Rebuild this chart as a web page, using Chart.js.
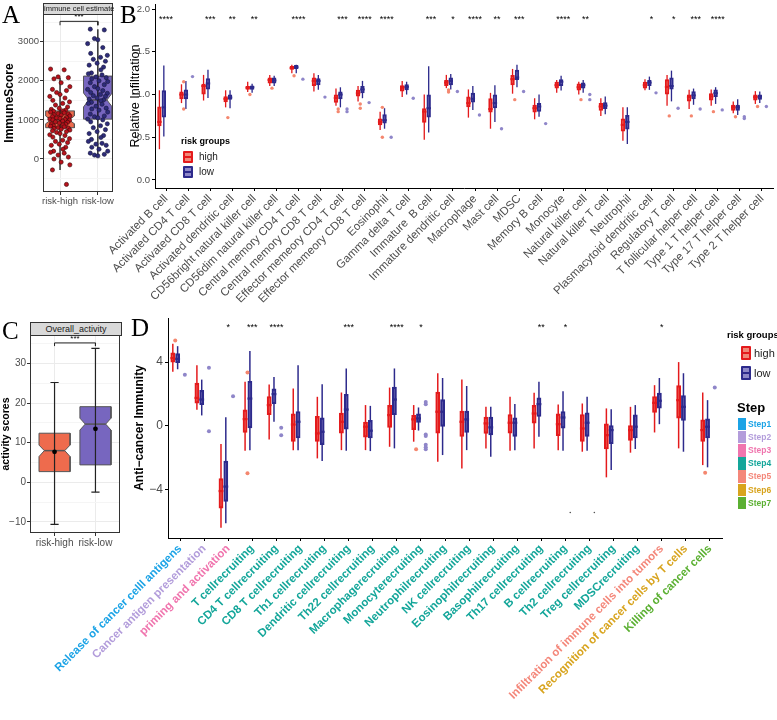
<!DOCTYPE html>
<html>
<head>
<meta charset="utf-8">
<script src="https://cdn.jsdelivr.net/npm/chart.js@4.4.1/dist/chart.umd.min.js"></script>
<style>
body{margin:0;background:#fff;width:777px;height:720px;position:relative;overflow:hidden;font-family:"Liberation Sans",Arial,sans-serif;color:#000}
canvas{position:absolute}
.tag{position:absolute;font-family:"Liberation Serif","DejaVu Serif",serif;font-size:25px;line-height:1}
.strip{position:absolute;background:#d9d9d9;border:1px solid #333;box-sizing:border-box;text-align:center;color:#1a1a1a;white-space:nowrap}
.txt{position:absolute;white-space:nowrap;line-height:1}
.key{position:absolute;box-sizing:border-box;border:2px solid;border-radius:1px}
.key i{position:absolute;left:0;right:0;top:50%;margin-top:-1px;height:2px}
.sq{position:absolute;left:738px;width:8px;height:12px}
.st{position:absolute;left:748px;font-size:8.5px;font-weight:bold;line-height:1}
</style>
</head>
<body>
<canvas id="cA" width="122" height="215" style="left:0;top:0"></canvas>
<canvas id="cC" width="124" height="240" style="left:0;top:320px"></canvas>
<canvas id="cB" width="687" height="340" style="left:90px;top:0"></canvas>
<canvas id="cD" width="727" height="410" style="left:50px;top:310px"></canvas>

<div class="tag" style="left:2px;top:2px">A</div>
<div class="tag" style="left:120px;top:2px">B</div>
<div class="tag" style="left:2px;top:318px">C</div>
<div class="tag" style="left:131px;top:315px">D</div>
<div class="strip" style="left:43px;top:3px;width:70px;height:12px;font-size:7.5px;line-height:10px">immune cell estimate</div>
<div class="strip" style="left:30px;top:322px;width:92px;height:14px;font-size:9px;line-height:12px">Overall_activity</div>

<!-- legend inside panel B -->
<div class="txt" style="left:181px;top:137px;font-size:9px;font-weight:bold">risk groups</div>
<div class="key" style="left:183px;top:151px;width:10px;height:12px;border-color:#E41A1C;background:#F08878"><i style="background:#E41A1C"></i></div>
<div class="txt" style="left:199px;top:152px;font-size:10px;color:#222">high</div>
<div class="key" style="left:183px;top:166px;width:10px;height:12px;border-color:#2D2A8C;background:#8E88C8"><i style="background:#2D2A8C"></i></div>
<div class="txt" style="left:199px;top:167px;font-size:10px;color:#222">low</div>

<!-- legends right of panel D -->
<div class="txt" style="left:727px;top:330px;font-size:9.5px;font-weight:bold">risk groups</div>
<div class="key" style="left:741px;top:346px;width:10px;height:14px;border-color:#E41A1C;background:#F08878"><i style="background:#E41A1C"></i></div>
<div class="txt" style="left:754px;top:348px;font-size:11px;color:#222">high</div>
<div class="key" style="left:741px;top:366px;width:10px;height:14px;border-color:#2D2A8C;background:#8E88C8"><i style="background:#2D2A8C"></i></div>
<div class="txt" style="left:754px;top:368px;font-size:11px;color:#222">low</div>
<div class="txt" style="left:737px;top:401px;font-size:13px;font-weight:bold">Step</div>
<div id="stepLegend"></div>

<script>
// ---------- panel A : ImmuneScore ----------
const scoreGroups = ['risk-high', 'risk-low'];
const scoreQ1 = [800, 1020];
const scoreMed = [1000, 1510];
const scoreQ3 = [1230, 2120];
const scoreNotchLo = [900, 1330];
const scoreNotchHi = [1100, 1690];
const scoreLo = [-280, 100];
const scoreHi = [2080, 3320];
const scoreTicks = [-500, 0, 500, 1000, 1500, 2000, 2500, 3000, 3500];
const scoreHigh = [2300, 2280, 2100, 2080, 2050, 1950, 1850, 1780, 1750, 1700, 1650, 1600, 1560, 1500, 1460,
  1420, 1380, 1330, 1300, 1270, 1250, 1230, 1220, 1200, 1180, 1160, 1150, 1130, 1120, 1100, 1080, 1060, 1050,
  1040, 1020, 1010, 1000, 990, 970, 950, 940, 920, 900, 890, 870, 850, 840, 820, 800, 790, 780, 760, 740, 720,
  700, 680, 650, 620, 600, 560, 520, 480, 450, 420, 380, 350, 300, 250, 200, 170, 150, 100, 50, 0, -80, -150,
  -280, -650];
const scoreLow = [3320, 3300, 3080, 3050, 2950, 2850, 2700, 2650, 2600, 2550, 2500, 2450, 2400, 2350, 2280,
  2200, 2180, 2150, 2100, 2080, 2050, 2000, 1980, 1950, 1900, 1850, 1800, 1780, 1750, 1700, 1680, 1650, 1620,
  1600, 1560, 1530, 1510, 1490, 1450, 1420, 1400, 1350, 1300, 1280, 1250, 1200, 1150, 1100, 1080, 1050, 1020,
  1000, 950, 900, 850, 800, 750, 700, 650, 600, 550, 500, 450, 400, 380, 350, 300, 250, 200, 150, 120, 100, 80];
const scoreSig = ['***'];

// ---------- panel C : overall activity ----------
const actQ1 = [2.7, 4.4];
const actMed = [8.0, 14.7];
const actQ3 = [12.4, 19.1];
const actNotchLo = [6.5, 13.2];
const actNotchHi = [9.4, 16.2];
const actLo = [-10.6, -2.5];
const actHi = [25.2, 33.8];
const actMean = [7.7, 13.5];
const actTicks = [-10, -5, 0, 5, 10, 15, 20, 25, 30, 35];
const actSig = ['***'];

// ---------- panel B : relative infiltration ----------
const cellTypes = ['Activated B cell', 'Activated CD4 T cell', 'Activated CD8 T cell', 'Activated dendritic cell',
  'CD56bright natural killer cell', 'CD56dim natural killer cell', 'Central memory CD4 T cell',
  'Central memory CD8 T cell', 'Effector memeory CD4 T cell', 'Effector memeory CD8 T cell', 'Eosinophil',
  'Gamma delta T cell', 'Immature  B cell', 'Immature dendritic cell', 'Macrophage', 'Mast cell', 'MDSC',
  'Memory B cell', 'Monocyte', 'Natural killer cell', 'Natural killer T cell', 'Neutrophil',
  'Plasmacytoid dendritic cell', 'Regulatory T cell', 'T follicular helper cell', 'Type 1 T helper cell',
  'Type 17 T helper cell', 'Type 2 T helper cell'];
const cellSig = ['****', '', '***', '**', '**', '', '****', '', '***', '****', '****', '', '***', '*', '****',
  '**', '***', '', '****', '**', '', '', '*', '*', '***', '****', '', ''];
const infilTicks = [0, 0.5, 1, 1.5, 2];
const infHighLo = [0.36, 0.90, 0.93, 0.85, 1.03, 1.10, 1.25, 1.035, 0.87, 0.92, 0.585, 0.97, 0.47, 1.075, 0.73, 0.60, 1.01, 0.71, 1.02, 1.00, 0.75, 0.46, 1.05, 0.87, 0.83, 0.87, 0.78, 0.89];
const infHighQ1 = [0.63, 0.945, 1.00, 0.91, 1.055, 1.13, 1.29, 1.10, 0.905, 0.977, 0.64, 1.035, 0.67, 1.10, 0.85, 0.79, 1.11, 0.79, 1.07, 1.047, 0.81, 0.566, 1.07, 1.00, 0.92, 0.93, 0.81, 0.93];
const infHighMed = [0.68, 1.00, 1.10, 0.95, 1.08, 1.17, 1.31, 1.16, 0.96, 1.015, 0.68, 1.08, 0.80, 1.14, 0.90, 0.83, 1.18, 0.84, 1.11, 1.086, 0.86, 0.645, 1.11, 1.09, 0.97, 0.977, 0.85, 0.97];
const infHighQ3 = [0.86, 1.035, 1.125, 0.98, 1.10, 1.20, 1.335, 1.20, 1.00, 1.055, 0.72, 1.11, 0.84, 1.17, 0.977, 0.957, 1.23, 0.88, 1.15, 1.13, 0.90, 0.72, 1.15, 1.18, 1.00, 1.016, 0.88, 1.00];
const infHighHi = [1.05, 1.12, 1.23, 1.05, 1.15, 1.23, 1.35, 1.25, 1.07, 1.10, 0.80, 1.16, 1.00, 1.23, 1.06, 1.02, 1.30, 0.957, 1.17, 1.15, 0.957, 0.85, 1.18, 1.23, 1.055, 1.06, 0.92, 1.04];
const infHighOut = [[], [1.15, 0.83], [], [0.73], [1.00], [1.075], [1.22], [], [0.83, 0.80], [0.89, 0.84], [0.85, 0.50], [], [], [1.055, 1.03], [], [], [0.94], [], [], [0.94], [], [], [], [0.75], [0.75], [0.80], [0.74], [0.86]];
const infLowLo = [0.51, 0.83, 0.96, 0.84, 1.02, 1.10, 1.25, 1.055, 0.85, 0.957, 0.60, 1.00, 0.555, 1.06, 0.82, 0.68, 1.086, 0.74, 1.047, 1.02, 0.77, 0.42, 1.055, 0.92, 0.88, 0.89, 0.76, 0.90];
const infLowQ1 = [0.73, 0.945, 1.06, 0.94, 1.055, 1.13, 1.30, 1.11, 0.945, 1.015, 0.66, 1.05, 0.73, 1.11, 0.906, 0.84, 1.17, 0.80, 1.10, 1.07, 0.83, 0.59, 1.10, 1.06, 0.945, 0.97, 0.81, 0.94];
const infLowMed = [0.85, 1.00, 1.13, 0.965, 1.085, 1.165, 1.32, 1.16, 1.00, 1.06, 0.70, 1.09, 0.84, 1.16, 0.95, 0.90, 1.20, 0.86, 1.15, 1.11, 0.87, 0.68, 1.14, 1.10, 0.99, 1.016, 0.85, 0.977];
const infLowQ3 = [1.05, 1.06, 1.19, 1.00, 1.105, 1.20, 1.345, 1.19, 1.035, 1.10, 0.77, 1.12, 1.00, 1.20, 1.02, 1.00, 1.29, 0.90, 1.18, 1.14, 0.91, 0.76, 1.17, 1.20, 1.04, 1.06, 0.88, 1.00];
const infLowHi = [1.34, 1.16, 1.29, 1.05, 1.125, 1.22, 1.35, 1.23, 1.085, 1.16, 0.84, 1.15, 1.33, 1.24, 1.10, 1.11, 1.35, 1.00, 1.22, 1.17, 0.977, 0.85, 1.21, 1.28, 1.07, 1.086, 0.945, 1.035];
const infLowOut = [[], [1.21], [], [], [], [], [1.18], [0.97], [0.83, 0.80], [0.906], [0.50], [0.957], [], [1.035], [0.76], [0.60], [1.035], [0.66], [], [1.00, 0.94], [], [], [1.02], [0.84], [0.83], [0.82], [0.74, 0.72], [0.86]];

// ---------- panel D : anti-cancer immunity ----------
const cycleSteps = ['Release of cancer celll antigens', 'Cancer antigen presentation', 'priming and activation',
  'T cellrecruiting', 'CD4 T cellrecruiting', 'CD8 T cellrecruiting', 'Th1 cellrecruiting',
  'Dendritic cellrecruiting', 'Th22 cellrecruiting', 'Macrophagerecruiting', 'Monocyterecruiting',
  'Neutrophilrecruiting', 'NK cellrecruiting', 'Eosinophilrecruiting', 'Basophilrecruiting',
  'Th17 cellrecruiting', 'B cellrecruiting', 'Th2 cellrecruiting', 'Treg cellrecruiting', 'MDSCrecruiting',
  'Infiltration of immune cells into tumors', 'Recognition of cancer cells by T cells', 'Killing of cancer cells'];
const stepOf = [1, 2, 3, 4, 4, 4, 4, 4, 4, 4, 4, 4, 4, 4, 4, 4, 4, 4, 4, 4, 5, 6, 7];
const stepNames = ['Step1', 'Step2', 'Step3', 'Step4', 'Step5', 'Step6', 'Step7'];
const stepColors = ['#1BA3E6', '#B39DDB', '#F075AE', '#14A69A', '#F4877A', '#D8A41E', '#5BB032'];
const cycleSig = ['', '', '*', '***', '****', '', '', '***', '', '****', '*', '', '', '', '', '**', '*', '', '', '', '*', '', ''];
const immTicks = [-4, 0, 4];
const immHighLo = [3.40, 1.00, -6.40, -1.57, -0.86, -1.53, -2.05, -1.53, -1.53, -1.32, -1.00, -2.26, -2.68, -1.42, -1.57, -1.42, -1.53, -1.63, -3.24, -1.69, -0.42, -1.42, -2.47];
const immHighQ1 = [3.97, 1.40, -5.20, -0.44, 0.67, -1.00, -1.00, -0.48, -0.73, -0.13, -0.27, -0.48, -0.69, -0.50, -0.48, 0.15, -0.65, -1.00, -1.48, -0.94, 0.82, 0.46, -1.00];
const immHighMed = [4.25, 1.75, -4.10, 0.42, 1.30, 0.08, -0.48, 0.25, -0.06, 0.67, 0.40, 0.88, 0.25, 0.15, 0.19, 0.77, 0.10, -0.17, -0.59, -0.27, 1.44, 1.61, -0.27];
const immHighQ3 = [4.60, 2.70, -3.30, 1.02, 1.86, 0.77, 0.61, 0.82, 0.25, 1.30, 0.67, 2.13, 0.94, 0.56, 0.73, 1.30, 0.77, 0.73, 0.15, 0.04, 1.86, 2.55, 0.40];
const immHighHi = [5.15, 3.80, -1.15, 2.76, 2.59, 2.34, 1.82, 2.09, 1.30, 2.40, 1.30, 3.30, 2.90, 1.20, 1.82, 2.07, 1.34, 1.40, 1.09, 1.19, 2.55, 4.00, 2.09];
const immHighOut = [[5.35], [], [], [3.35, -2.99], [], [], [], [], [], [], [-1.48], [], [], [], [], [], [], [], [], [], [], [], [-2.95]];
const immLowLo = [3.55, 0.65, -6.12, -1.53, 0.25, -1.53, -2.22, -1.57, -1.59, -1.42, -0.30, -1.84, -1.53, -1.94, -1.53, -0.69, -1.57, -1.57, -2.78, -1.46, 0.10, -1.63, -2.61];
const immLowQ1 = [3.95, 1.30, -4.77, -0.15, 1.36, -0.79, -1.21, -0.23, -0.79, 0.67, 0.19, -0.06, -0.44, -0.59, -0.69, 0.56, -0.17, -0.69, -1.15, -0.79, 1.09, 0.31, -0.79];
const immLowMed = [4.20, 1.65, -3.82, 1.71, 1.99, 0.25, -0.38, 1.02, -0.31, 1.65, 0.46, 0.88, 0.40, -0.10, 0.19, 1.36, 0.52, 0.19, -0.27, -0.06, 1.57, 1.19, -0.06];
const immLowQ3 = [4.55, 2.24, -2.20, 2.82, 2.34, 0.92, 0.52, 1.99, 0.36, 2.45, 0.77, 1.67, 0.94, 0.56, 0.52, 1.78, 0.92, 0.84, 0.04, 0.71, 2.07, 1.92, 0.46];
const immLowHi = [5.00, 2.90, 0.54, 4.70, 3.07, 3.80, 2.61, 3.60, 1.25, 3.60, 1.15, 3.00, 2.50, 1.20, 1.36, 2.76, 2.17, 1.82, 1.04, 1.30, 3.00, 3.30, 1.61];
const immLowOut = [[3.20], [3.65, -0.35], [1.86], [], [-0.13, -0.59], [], [], [], [], [], [1.50, 1.35, -0.55, -0.65, -1.20, -1.35, -1.48], [], [], [], [], [], [], [], [], [], [], [], [2.40]];
const immSpecks = [[16, -5.45], [17, -5.45]];

// ---------- shared look ----------
Chart.defaults.font.family = '"Liberation Sans", Arial, sans-serif';
Chart.defaults.animation = false;
Chart.defaults.events = [];
Chart.defaults.plugins.legend.display = false;
Chart.defaults.plugins.tooltip.enabled = false;

const RED = {line: '#E41A1C', fill: '#F08878', dot: '#F4876F'};
const BLUE = {line: '#2D2A8C', fill: '#8E88C8', dot: '#8F86C9'};
const jitterPattern = [-0.25, 0.11, -0.05, 0.22, -0.16, 0.03, 0.26, -0.2, 0.17, -0.09, 0.0, -0.27, 0.13, -0.19, 0.25, 0.07, -0.12, 0.2, -0.02, -0.23, 0.15, 0.08, -0.17];

function fixY(w) { return s => { s.width = w; s.paddingTop = 0; s.paddingBottom = 0; }; }
function fixX(h) { return s => { s.height = h; s.paddingLeft = 0; s.paddingRight = 0; }; }
function setTicks(list) { return s => { s.ticks = list.map(v => ({value: v})); }; }

// significance stars, placed with the chart's own scales
const starPlugin = {
  id: 'stars',
  afterDatasetsDraw(chart, args, opts) {
    const ctx = chart.ctx, xs = chart.scales[opts.xAxis], ys = chart.scales.y;
    ctx.save();
    ctx.font = opts.font;
    ctx.fillStyle = '#000';
    ctx.textAlign = 'center';
    ctx.textBaseline = 'middle';
    opts.labels.forEach((s, i) => {
      if (s) ctx.fillText(s, xs.getPixelForValue(opts.at ? opts.at[i] : i), ys.getPixelForValue(opts.y));
    });
    ctx.restore();
  }
};
// panel border for the theme_bw panels
const framePlugin = {
  id: 'frame',
  afterDraw(chart) {
    const a = chart.chartArea, ctx = chart.ctx;
    ctx.save();
    ctx.strokeStyle = '#333';
    ctx.lineWidth = 1;
    ctx.strokeRect(Math.round(a.left) + 0.5, Math.round(a.top) + 0.5, Math.round(a.width) - 1, Math.round(a.height) - 1);
    ctx.restore();
  }
};

function notchShape(c, w, nw, q1, nLo, med, nHi, q3) {
  return [{x: c - w, y: q1}, {x: c - w, y: nLo}, {x: c - nw, y: med}, {x: c - w, y: nHi}, {x: c - w, y: q3},
    {x: c + w, y: q3}, {x: c + w, y: nHi}, {x: c + nw, y: med}, {x: c + w, y: nLo}, {x: c + w, y: q1}, {x: c - w, y: q1}];
}
function seg(points, color, width, order) {
  return {data: points, borderColor: color, borderWidth: width, pointRadius: 0, fill: false, tension: 0, order: order};
}

function bwScales(xmin, xmax, ymin, ymax, yTicks, major, yTitle, yw, titlePad, titleSize, xh, tickSize) {
  const isMajor = v => major(v);
  return {
    x: {
      type: 'linear', min: xmin, max: xmax, afterBuildTicks: setTicks([0, 1]), afterFit: fixX(xh),
      ticks: {callback: v => scoreGroups[v], color: '#4D4D4D', font: {size: tickSize}, padding: 1},
      grid: {color: '#EBEBEB', tickColor: '#333', tickLength: 3, lineWidth: 1}, border: {display: false}
    },
    y: {
      min: ymin, max: ymax, afterBuildTicks: setTicks(yTicks), afterFit: fixY(yw),
      ticks: {callback: v => isMajor(v) ? String(v).replace('-', '\u2212') : '', color: '#4D4D4D', font: {size: tickSize}, padding: 1},
      grid: {
        color: c => isMajor(c.tick.value) ? '#EBEBEB' : '#F5F5F5',
        tickColor: c => isMajor(c.tick.value) ? '#333' : 'rgba(0,0,0,0)', tickLength: 3
      },
      border: {display: false},
      title: {display: true, text: yTitle, font: {size: titleSize, weight: 'bold'}, color: '#000', padding: {top: titlePad, bottom: 0}}
    }
  };
}

// ---------- chart A ----------
(function () {
  const w = 0.38, nw = 0.24, sets = [];
  [0, 1].forEach(g => {
    sets.push({data: notchShape(g, w, nw, scoreQ1[g], scoreNotchLo[g], scoreMed[g], scoreNotchHi[g], scoreQ3[g]),
      borderColor: '#555', borderWidth: 1, backgroundColor: g ? '#7766BF' : '#EE6B4D', fill: 'shape', pointRadius: 0, tension: 0, order: 6});
    sets.push(seg([{x: g - nw, y: scoreMed[g]}, {x: g + nw, y: scoreMed[g]}], '#555', 1.5, 5));
    sets.push(seg([{x: g, y: scoreLo[g]}, {x: g, y: scoreHi[g]}], '#111', 1.3, 4));
  });
  sets.push({data: scoreHigh.map((v, k) => ({x: jitterPattern[k % jitterPattern.length], y: v})), showLine: false,
    pointRadius: 2.1, pointBackgroundColor: '#B8121C', pointBorderColor: '#3a0808', pointBorderWidth: 0.6, order: 1});
  sets.push({data: scoreLow.map((v, k) => ({x: 1 + jitterPattern[(k + 7) % jitterPattern.length], y: v})), showLine: false,
    pointRadius: 2.1, pointBackgroundColor: '#2E2C7A', pointBorderColor: '#15153a', pointBorderWidth: 0.6, order: 1});
  sets.push(seg([{x: 0, y: 3420}, {x: 0, y: 3520}, {x: 1, y: 3520}, {x: 1, y: 3420}], '#222', 1, 0));
  new Chart(document.getElementById('cA'), {
    type: 'line',
    data: {datasets: sets},
    plugins: [starPlugin, framePlugin],
    options: {
      responsive: false, devicePixelRatio: 1,
      layout: {padding: {top: 14, right: 9, left: 0, bottom: 0}},
      scales: bwScales(-0.45, 1.4, -844, 3708, scoreTicks, v => v % 1000 === 0, 'ImmuneScore', 43, 2.5, 12, 23, 9.5),
      plugins: {stars: {xAxis: 'x', labels: scoreSig, at: [0.5], y: 3640, font: '8px "Liberation Sans", Arial'}}
    }
  });
})();

// ---------- chart C ----------
(function () {
  const w = 0.38, nw = 0.25, cw = 0.1, sets = [];
  [0, 1].forEach(g => {
    sets.push({data: notchShape(g, w, nw, actQ1[g], actNotchLo[g], actMed[g], actNotchHi[g], actQ3[g]),
      borderColor: '#555', borderWidth: 1, backgroundColor: g ? '#7766BF' : '#EE6B4D', fill: 'shape', pointRadius: 0, tension: 0, order: 6});
    sets.push(seg([{x: g - nw, y: actMed[g]}, {x: g + nw, y: actMed[g]}], '#555', 1.5, 5));
    sets.push(seg([{x: g - cw, y: actLo[g]}, {x: g + cw, y: actLo[g]}, {x: g, y: null}, {x: g, y: actLo[g]}, {x: g, y: actHi[g]},
      {x: g, y: null}, {x: g - cw, y: actHi[g]}, {x: g + cw, y: actHi[g]}], '#222', 1.2, 4));
  });
  sets.push({data: actMean.map((v, g) => ({x: g, y: v})), showLine: false, pointRadius: 2.4, pointBackgroundColor: '#000', pointBorderWidth: 0, order: 1});
  sets.push(seg([{x: 0, y: 34.4}, {x: 0, y: 35.2}, {x: 1, y: 35.2}, {x: 1, y: 34.4}], '#222', 1, 0));
  new Chart(document.getElementById('cC'), {
    type: 'line',
    data: {datasets: sets},
    plugins: [starPlugin, framePlugin],
    options: {
      responsive: false, devicePixelRatio: 1,
      layout: {padding: {top: 15, right: 2, left: 0, bottom: 0}},
      scales: bwScales(-0.6, 1.6, -12.8, 37.2, actTicks, v => v % 10 === 0, 'activity scores', 30, 0, 10.5, 27, 10),
      plugins: {stars: {xAxis: 'x', labels: actSig, at: [0.5], y: 36.3, font: '8px "Liberation Sans", Arial'}}
    }
  });
})();

// ---------- box plots built from floating bars ----------
// sty.md = half the median line thickness, in axis units
function boxSets(lo, q1, med, q3, hi, out, grp, sty) {
  const side = grp === 'high' ? -0.2 : 0.2;
  const c = grp === 'high' ? RED : BLUE;
  const common = {type: 'bar', stack: grp, categoryPercentage: 0.8, borderSkipped: false};
  return [
    Object.assign({}, common, {data: q1.map((v, i) => [v, q3[i]]), backgroundColor: c.fill, borderColor: c.line,
      borderWidth: sty.bw, barPercentage: 1, order: 3}),
    Object.assign({}, common, {data: lo.map((v, i) => [v, hi[i]]), backgroundColor: c.line, borderWidth: 0,
      barPercentage: sty.wp, order: 4}),
    Object.assign({}, common, {data: med.map(v => [v - sty.md, v + sty.md]), backgroundColor: c.line, borderWidth: 0,
      barPercentage: 1, order: 2}),
    {type: 'scatter', xAxisID: 'x2', data: out.flatMap((a, i) => a.map(v => ({x: i + side, y: v}))),
      pointRadius: sty.or, pointBackgroundColor: c.dot, pointBorderWidth: 0, order: 1}
  ];
}
function classicScales(n, ymin, ymax, yTicks, yFmt, yTitle, yw, titlePad, titleFont, xh, xFont, xColor, yFont) {
  return {
    x: {
      stacked: true, offset: true, afterFit: fixX(xh),
      grid: {drawOnChartArea: false, offset: false, tickLength: 3, color: '#000'},
      border: {display: true, color: '#000', width: 1},
      ticks: {autoSkip: false, maxRotation: 45, minRotation: 45, color: xColor, font: xFont, padding: 1}
    },
    // hidden helper axis for the outlier dots, same span as the category axis
    x2: {type: 'linear', display: false, offset: false, grid: {offset: false}, min: -0.5, max: n - 0.5},
    y: {
      stacked: false, min: ymin, max: ymax, afterBuildTicks: setTicks(yTicks), afterFit: fixY(yw),
      ticks: {callback: yFmt, color: '#4D4D4D', font: yFont, padding: 2},
      grid: {drawOnChartArea: false, tickLength: 3, color: '#000'},
      border: {display: true, color: '#000', width: 1},
      title: {display: true, text: yTitle, font: titleFont, color: '#000', padding: {top: titlePad, bottom: 0}}
    }
  };
}

// ---------- chart B ----------
(function () {
  const sty = {bw: 2, wp: 0.3, md: 0.012, or: 1.7};
  new Chart(document.getElementById('cB'), {
    type: 'bar',
    data: {
      labels: cellTypes,
      datasets: boxSets(infHighLo, infHighQ1, infHighMed, infHighQ3, infHighHi, infHighOut, 'high', sty)
        .concat(boxSets(infLowLo, infLowQ1, infLowMed, infLowQ3, infLowHi, infLowOut, 'low', sty))
    },
    plugins: [starPlugin],
    options: {
      responsive: false, devicePixelRatio: 1,
      layout: {padding: {top: 4, right: 1, left: 0, bottom: 0}},
      scales: classicScales(cellTypes.length, -0.094, 2.06, infilTicks, v => v.toFixed(1), 'Relative Infiltration',
        65, 38.5, {size: 12.5}, 152, {size: 11.5}, '#4D4D4D', {size: 9.5}),
      plugins: {stars: {xAxis: 'x', labels: cellSig, y: 1.875, font: '9px "Liberation Sans", Arial'}}
    }
  });
})();

// ---------- chart D ----------
(function () {
  const sty = {bw: 2.2, wp: 0.31, md: 0.07, or: 2};
  const sets = boxSets(immHighLo, immHighQ1, immHighMed, immHighQ3, immHighHi, immHighOut, 'high', sty)
    .concat(boxSets(immLowLo, immLowQ1, immLowMed, immLowQ3, immLowHi, immLowOut, 'low', sty));
  sets.push({type: 'scatter', xAxisID: 'x2', data: immSpecks.map(p => ({x: p[0] + 0.2, y: p[1]})), pointRadius: 0.8,
    pointBackgroundColor: '#555', pointBorderWidth: 0, order: 0});
  new Chart(document.getElementById('cD'), {
    type: 'bar',
    data: {labels: cycleSteps, datasets: sets},
    plugins: [starPlugin],
    options: {
      responsive: false, devicePixelRatio: 1,
      layout: {padding: {top: 8, right: 55, left: 0, bottom: 0}},
      scales: (function () {
        const s = classicScales(cycleSteps.length, -7.05, 6.77, immTicks, v => v < 0 ? '\u2212' + Math.abs(v) : String(v),
          'Anti\u2212cancer Immunity', 118, 82.8, {size: 12, weight: 'bold'}, 182, {size: 11.5, weight: 'bold'}, '#000', {size: 12});
        s.x.ticks.color = c => stepColors[stepOf[c.index] - 1];
        return s;
      })(),
      plugins: {stars: {xAxis: 'x', labels: cycleSig, y: 6.2, font: '9px "Liberation Sans", Arial'}}
    }
  });
})();

// step legend
(function () {
  const box = document.getElementById('stepLegend');
  stepNames.forEach((s, k) => {
    const top = 418 + k * 13.1;
    box.insertAdjacentHTML('beforeend',
      '<div class="sq" style="top:' + top + 'px;height:12.4px;background:' + stepColors[k] + '"></div>' +
      '<div class="st" style="top:' + (top + 2) + 'px;color:' + stepColors[k] + '">' + s + '</div>');
  });
})();
</script>
</body>
</html>
